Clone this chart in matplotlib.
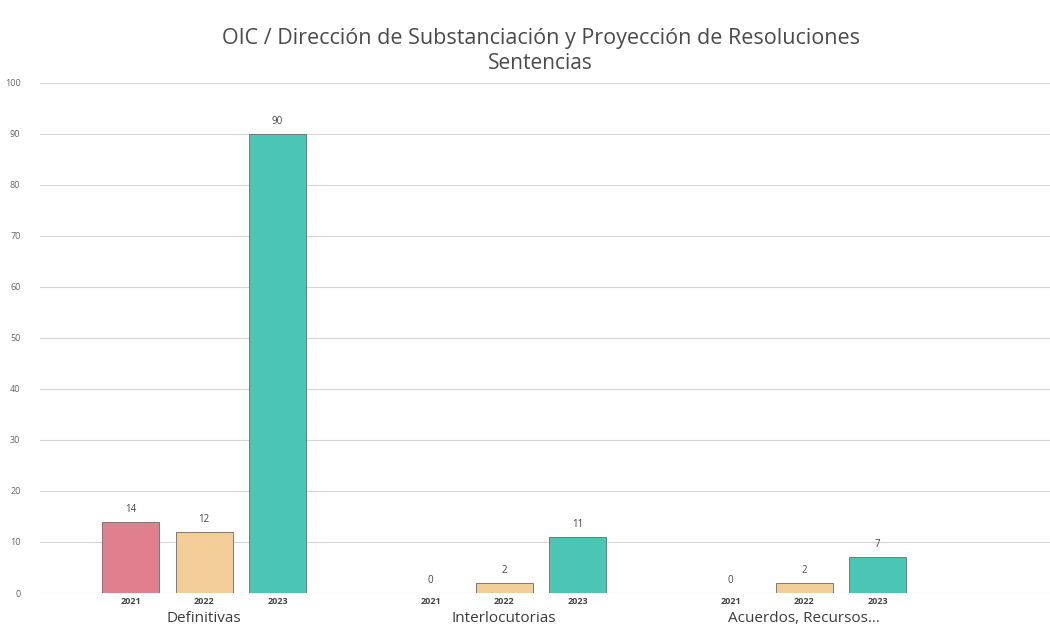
import matplotlib.pyplot as plt
import matplotlib.transforms as mtransforms
import numpy as np

plt.rcParams['font.family'] = ['Open Sans', 'DejaVu Sans']

# Data
categories = ['Definitivas', 'Interlocutorias', 'Acuerdos, Recursos...']
years = ['2021', '2022', '2023']
values_2021 = [14, 0, 0]
values_2022 = [12, 2, 2]
values_2023 = [90, 11, 7]
series = [values_2021, values_2022, values_2023]
colors = ['#e0808f', '#f2cd98', '#4cc6b4']
y_ticks = [0, 10, 20, 30, 40, 50, 60, 70, 80, 90, 100]

fig = plt.figure(figsize=(10.5, 6.38), dpi=100)
ax = fig.add_axes([0.038, 0.0705, 0.962, 0.8])

x = np.arange(len(categories))
width = 0.19
offset = 0.245

tick_pos = []
tick_lab = []
for i, vals in enumerate(series):
    pos = x + (i - 1) * offset
    bars = ax.bar(pos, vals, width, color=colors[i], edgecolor='#6a6a6a',
                  linewidth=0.6, zorder=3)
    for b, v in zip(bars, vals):
        ax.annotate(str(v), (b.get_x() + b.get_width() / 2, v),
                    xytext=(0, 5), textcoords='offset points',
                    ha='center', va='bottom', fontsize=7, color='#444444')
    tick_pos += list(pos)
    tick_lab += [years[i]] * len(pos)

ax.set_xticks(tick_pos)
ax.set_xticklabels(tick_lab, fontsize=6.5, color='#444444', fontweight='bold')
ax.tick_params(axis='x', length=0, pad=3)

# category names under the year labels
trans = mtransforms.blended_transform_factory(ax.transData, ax.transAxes)
for xi, cat in zip(x, categories):
    ax.text(xi, -0.036, cat, transform=trans, ha='center', va='top',
            fontsize=11, color='#3a3a3a')

ax.set_ylim(0, 100)
ax.set_yticks(y_ticks)
ax.tick_params(axis='y', length=0, labelsize=6.5, labelcolor='#666666', pad=14)
ax.set_xlim(-0.547, 2.82)
ax.grid(axis='y', color='#d4d4d4', linewidth=0.8, zorder=0)
for s in ax.spines.values():
    s.set_visible(False)

fig.text(0.515, 0.94, 'OIC / Dirección de Substanciación y Proyección de Resoluciones',
         ha='center', va='center', fontsize=15.5, color='#4a4a4a')
fig.text(0.515, 0.9, 'Sentencias', ha='center', va='center',
         fontsize=15, color='#4a4a4a')

fig.savefig('out.png', dpi=100)
